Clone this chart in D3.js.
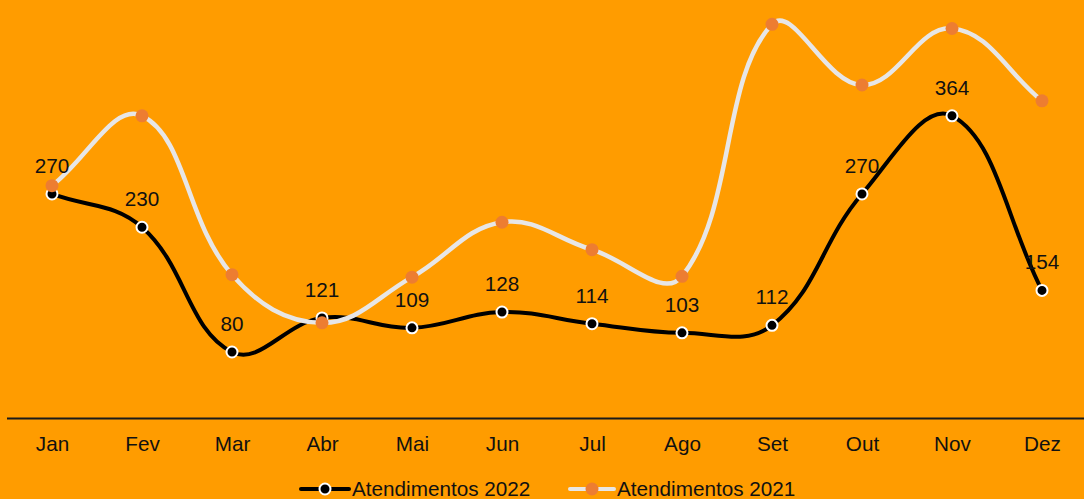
<!DOCTYPE html>
<html>
<head>
<meta charset="utf-8">
<script src="https://cdn.jsdelivr.net/npm/d3@7"></script>
<style>
  html, body { margin: 0; padding: 0; background: #ff9c00; }
  svg { display: block; font-family: "Liberation Sans", Arial, sans-serif; }
</style>
</head>
<body>
<svg id="chart" width="1084" height="499"></svg>
<script>
// data
var meses = ["Jan","Fev","Mar","Abr","Mai","Jun","Jul","Ago","Set","Out","Nov","Dez"];
var atend2022 = [270, 230, 80, 121, 109, 128, 114, 103, 112, 270, 364, 154];
var atend2021 = [280, 364, 173, 115, 170, 236, 203, 171, 474, 401, 469, 382];
var yDomain = [0, 500];

var width = 1084, height = 499;
var fonte = "20.7px";
var svg = d3.select("#chart");

svg.append("rect")
  .attr("width", width)
  .attr("height", height)
  .attr("fill", "#ff9c00");

var x = d3.scalePoint()
  .domain(meses)
  .range([7, 1087])
  .padding(0.5);

var y = d3.scaleLinear()
  .domain(yDomain)
  .range([418.5, 2.7]);

// spline like chart.js (tension 0.4)
function spline(pts, t) {
  var cps = pts.map(function(p, i) {
    var prev = pts[i-1] || p, next = pts[i+1] || p;
    var d01 = Math.hypot(p[0]-prev[0], p[1]-prev[1]);
    var d12 = Math.hypot(next[0]-p[0], next[1]-p[1]);
    var s01 = d01/(d01+d12), s12 = d12/(d01+d12);
    if (isNaN(s01)) s01 = 0;
    if (isNaN(s12)) s12 = 0;
    var fa = t*s01, fb = t*s12;
    return {
      prev: [p[0] - fa*(next[0]-prev[0]), p[1] - fa*(next[1]-prev[1])],
      next: [p[0] + fb*(next[0]-prev[0]), p[1] + fb*(next[1]-prev[1])]
    };
  });
  var path = d3.path();
  path.moveTo(pts[0][0], pts[0][1]);
  for (var i = 1; i < pts.length; i++) {
    path.bezierCurveTo(cps[i-1].next[0], cps[i-1].next[1], cps[i].prev[0], cps[i].prev[1], pts[i][0], pts[i][1]);
  }
  return path.toString();
}

function toPoints(vals) {
  return vals.map(function(v, i) { return [x(meses[i]), y(v)]; });
}

// x axis
var xAxis = svg.append("g")
  .attr("transform", "translate(0,418.5)")
  .call(d3.axisBottom(x).tickSize(0).tickPadding(18));
xAxis.select(".domain")
  .attr("d", "M7,0H1084")
  .attr("stroke", "#1a1a1a")
  .attr("stroke-width", 2);
xAxis.selectAll("text")
  .attr("font-size", fonte)
  .attr("font-family", "Liberation Sans, Arial, sans-serif")
  .attr("fill", "#111");

// 2022
svg.append("path")
  .attr("d", spline(toPoints(atend2022), 0.4))
  .attr("fill", "none")
  .attr("stroke", "#000")
  .attr("stroke-width", 4);

svg.selectAll("circle.p22")
  .data(atend2022)
  .enter()
  .append("circle")
  .attr("class", "p22")
  .attr("cx", function(d, i) { return x(meses[i]); })
  .attr("cy", function(d) { return y(d); })
  .attr("r", 5.5)
  .attr("fill", "#000")
  .attr("stroke", "#fff")
  .attr("stroke-width", 2);

// 2021
svg.append("path")
  .attr("d", spline(toPoints(atend2021), 0.4))
  .attr("fill", "none")
  .attr("stroke", "#e7e6e6")
  .attr("stroke-width", 4.5);

svg.selectAll("circle.p21")
  .data(atend2021)
  .enter()
  .append("circle")
  .attr("class", "p21")
  .attr("cx", function(d, i) { return x(meses[i]); })
  .attr("cy", function(d) { return y(d); })
  .attr("r", 6.5)
  .attr("fill", "#ed7d31");

// labels 2022
svg.selectAll("text.lbl")
  .data(atend2022)
  .enter()
  .append("text")
  .attr("class", "lbl")
  .attr("x", function(d, i) { return x(meses[i]); })
  .attr("y", function(d) { return y(d) - 21; })
  .attr("text-anchor", "middle")
  .attr("font-size", fonte)
  .attr("fill", "#111")
  .text(function(d) { return d; });

// legend
var legenda = [
  {nome: "Atendimentos 2022", x0: 301, x1: 349, cor: "#000", ponto: "#000", borda: "#fff"},
  {nome: "Atendimentos 2021", x0: 570, x1: 614, cor: "#e7e6e6", ponto: "#ed7d31", borda: "none"}
];
var leg = svg.selectAll("g.leg")
  .data(legenda)
  .enter()
  .append("g")
  .attr("class", "leg");
leg.append("line")
  .attr("x1", function(d) { return d.x0; })
  .attr("x2", function(d) { return d.x1; })
  .attr("y1", 489)
  .attr("y2", 489)
  .attr("stroke", function(d) { return d.cor; })
  .attr("stroke-width", 4)
  .attr("stroke-linecap", "round");
leg.append("circle")
  .attr("cx", function(d) { return (d.x0 + d.x1) / 2; })
  .attr("cy", 489)
  .attr("r", function(d, i) { return i == 0 ? 5.5 : 6.5; })
  .attr("fill", function(d) { return d.ponto; })
  .attr("stroke", function(d) { return d.borda; })
  .attr("stroke-width", 2);
leg.append("text")
  .attr("x", function(d) { return d.x1 + 3; })
  .attr("y", 496)
  .attr("font-size", fonte)
  .attr("fill", "#111")
  .text(function(d) { return d.nome; });
</script>
</body>
</html>
